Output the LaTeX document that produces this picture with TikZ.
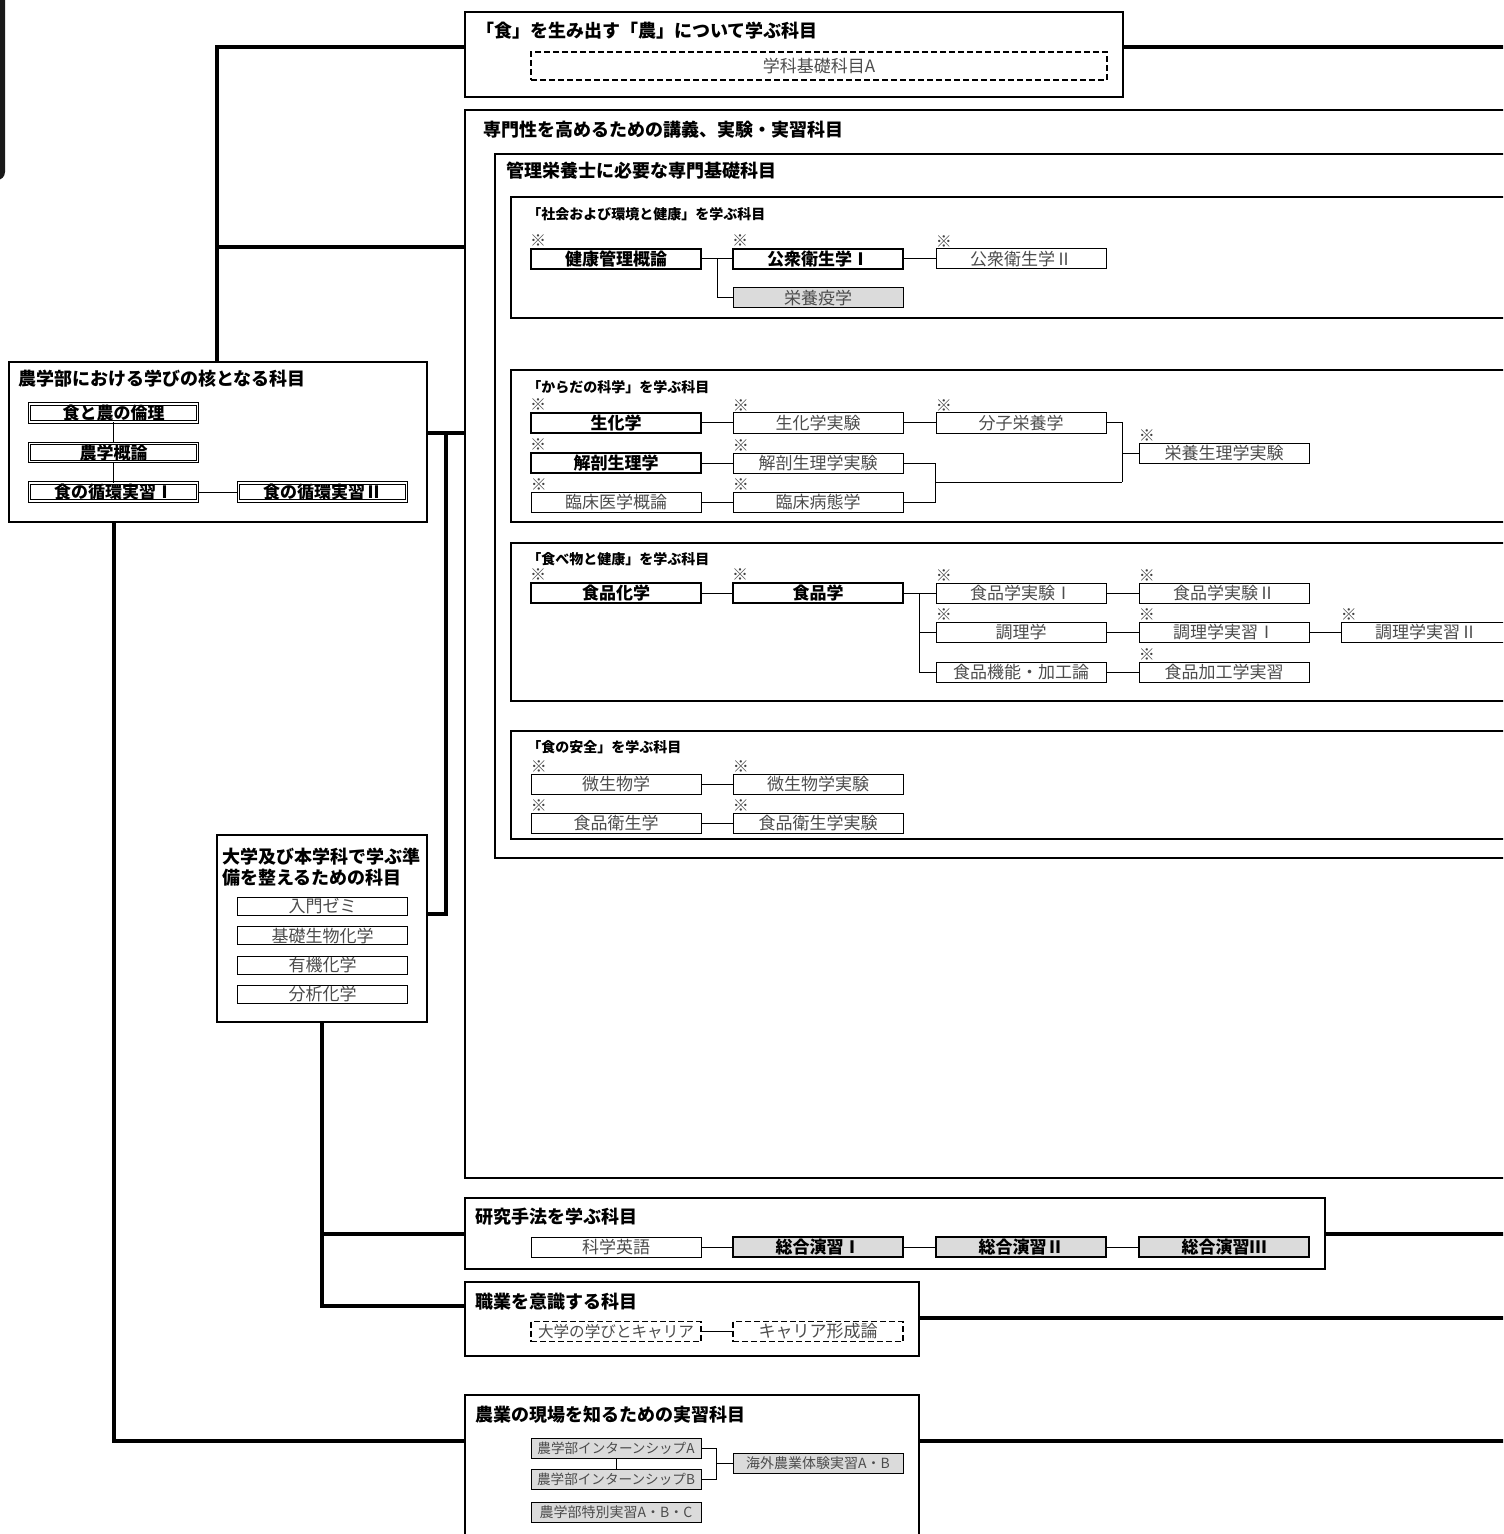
\documentclass[tikz,border=0pt]{standalone}
\usepackage{fontspec}
\setmainfont{Noto Sans CJK JP}
\usetikzlibrary{fit}
\tikzset{
  cbox/.style={draw, line width=0.7pt, inner sep=0pt},
  ttl/.style={anchor=west, inner sep=0pt, font=\fontsize{9}{10}\selectfont\bfseries},
  sttl/.style={anchor=west, inner sep=0pt, font=\fontsize{7}{8}\selectfont\bfseries},
  crs/.style={draw, line width=0.5pt, minimum width=85pt, minimum height=10pt, inner sep=0pt, text=black!70, font=\fontsize{8.5}{9}\selectfont},
  crsb/.style={crs, line width=1.4pt, text=black, font=\fontsize{8.5}{9}\selectfont\bfseries},
  gfill/.style={fill=black!14},
  dbl/.style={crs, double, double distance=0.9pt, line width=0.4pt, minimum width=84pt, minimum height=9pt, text=black, font=\fontsize{8.5}{9}\selectfont\bfseries},
  dsh/.style={crs, dash pattern=on 3pt off 1.5pt, line width=0.7pt},
  mk/.style={label={[inner sep=0pt, anchor=south west, yshift=0.5pt, font=\fontsize{8}{8}\selectfont, text=black!75]north west:※}},
  conn/.style={line width=0.5pt},
  trunk/.style={line width=1.6pt},
}
\begin{document}
\begin{tikzpicture}[x=0.5pt,y=-0.5pt]
\useasboundingbox (0,0) rectangle (1503,1534);
\clip (0,0) rectangle (1503,1534);
% page edge artifact
\fill[black!90, rounded corners=4pt] (-10,-10) rectangle (5,180);

% ---------- containers ----------
\node[cbox, fit={(465,12)(1123,97)}] (box1) {};
\node[cbox, fit={(465,110)(1530,1178)}] (box2) {};
\node[cbox, fit={(495,154)(1530,858)}] (box3) {};
\node[cbox, fit={(511,197)(1530,318)}] (sb1) {};
\node[cbox, fit={(511,370)(1530,522)}] (sb2) {};
\node[cbox, fit={(511,543)(1530,701)}] (sb3) {};
\node[cbox, fit={(511,731)(1530,839)}] (sb4) {};
\node[cbox, fit={(9,362)(427,522)}] (core) {};
\node[cbox, fit={(217,835)(427,1022)}] (prep) {};
\node[cbox, fit={(465,1198)(1325,1269)}] (res) {};
\node[cbox, fit={(465,1282)(919,1356)}] (car) {};
\node[cbox, fit={(465,1395)(919,1560)}] (farm) {};

% ---------- titles ----------
\node[ttl] (t-box1) at (476,31) {「食」を生み出す「農」について学ぶ科目};
\node[ttl] (t-box2) at (483,130) {専門性を高めるための講義、実験・実習科目};
\node[ttl] (t-box3) at (506,171) {管理栄養士に必要な専門基礎科目};
\node[sttl] (t-sb1) at (527,214) {「社会および環境と健康」を学ぶ科目};
\node[sttl] (t-sb2) at (527,387) {「からだの科学」を学ぶ科目};
\node[sttl] (t-sb3) at (527,559) {「食べ物と健康」を学ぶ科目};
\node[sttl] (t-sb4) at (527,747) {「食の安全」を学ぶ科目};
\node[ttl] (t-core) at (18,379) {農学部における学びの核となる科目};
\node[ttl, align=left, font=\fontsize{9}{10.5}\selectfont\bfseries] (t-prep) at (222,867) {大学及び本学科で学ぶ準\\備を整えるための科目};
\node[ttl] (t-res) at (475,1217) {研究手法を学ぶ科目};
\node[ttl] (t-car) at (475,1302) {職業を意識する科目};
\node[ttl] (t-farm) at (475,1415) {農業の現場を知るための実習科目};

% ---------- top box ----------
\node[dsh, minimum width=288pt, minimum height=14pt] (kiso) at (819,66) {学科基礎科目A};

% ---------- social & environment ----------
\node[crsb, mk] (kenko) at (616,259) {健康管理概論};
\node[crsb, mk] (koshu1) at (818,259) {公衆衛生学Ⅰ};
\node[crs, mk] (koshu2) at (1021,259) {公衆衛生学Ⅱ};
\node[crs, gfill] (ekigaku) at (818,298) {栄養疫学};
\draw[conn] (kenko.east) -- (koshu1.west);
\draw[conn] (koshu1.east) -- (koshu2.west);
\draw[conn] (kenko.east) ++(15,0) |- (ekigaku.west);

% ---------- body science ----------
\node[crsb, mk] (seika) at (616,423) {生化学};
\node[crs, mk] (seikaj) at (818,423) {生化学実験};
\node[crs, mk] (bunshi) at (1021,423) {分子栄養学};
\node[crsb, mk] (kaibo) at (616,463) {解剖生理学};
\node[crs, mk] (kaiboj) at (818,463) {解剖生理学実験};
\node[crs, mk] (rinsho) at (616,502) {臨床医学概論};
\node[crs, mk] (rinbyo) at (818,502) {臨床病態学};
\node[crs, mk] (eiyoj) at (1224,453) {栄養生理学実験};
\coordinate (jA) at (1122,482);
\coordinate (jB) at (935,482);
\draw[conn] (seika.east) -- (seikaj.west);
\draw[conn] (seikaj.east) -- (bunshi.west);
\draw[conn] (kaibo.east) -- (kaiboj.west);
\draw[conn] (rinsho.east) -- (rinbyo.west);
\draw[conn] (bunshi.east) -| (jA);
\draw[conn] (kaiboj.east) -| (jB) |- (rinbyo.east);
\draw[conn] (jB) -- (jA);
\draw[conn] (jA |- eiyoj.west) -- (eiyoj.west);

% ---------- food & health ----------
\node[crsb, mk] (hinkaku) at (616,593) {食品化学};
\node[crsb, mk] (hingaku) at (818,593) {食品学};
\node[crs, mk] (hjk1) at (1021,593) {食品学実験Ⅰ};
\node[crs, mk] (hjk2) at (1224,593) {食品学実験Ⅱ};
\node[crs, mk] (chori) at (1021,632) {調理学};
\node[crs, mk] (chorij1) at (1224,632) {調理学実習Ⅰ};
\node[crs, mk] (chorij2) at (1426,632) {調理学実習Ⅱ};
\node[crs] (kino) at (1021,672) {食品機能・加工論};
\node[crs, mk] (kakoj) at (1224,672) {食品加工学実習};
\draw[conn] (hinkaku.east) -- (hingaku.west);
\draw[conn] (hingaku.east) -- (hjk1.west);
\draw[conn] (hingaku.east) ++(15,0) |- (chori.west);
\draw[conn] (hingaku.east) ++(15,0) |- (kino.west);
\draw[conn] (hjk1.east) -- (hjk2.west);
\draw[conn] (chori.east) -- (chorij1.west);
\draw[conn] (chorij1.east) -- (chorij2.west);
\draw[conn] (kino.east) -- (kakoj.west);

% ---------- food safety ----------
\node[crs, mk] (biseibutsu) at (616,784) {微生物学};
\node[crs, mk] (biseij) at (818,784) {微生物学実験};
\node[crs, mk] (eisei) at (616,823) {食品衛生学};
\node[crs, mk] (eiseij) at (818,823) {食品衛生学実験};
\draw[conn] (biseibutsu.east) -- (biseij.west);
\draw[conn] (eisei.east) -- (eiseij.west);

% ---------- core ----------
\node[dbl] (rinri) at (113.5,413) {食と農の倫理};
\node[dbl] (gairon) at (113.5,452.5) {農学概論};
\node[dbl] (junkan1) at (113.5,492) {食の循環実習Ⅰ};
\node[dbl] (junkan2) at (322.5,492) {食の循環実習Ⅱ};
\draw[conn] (rinri.south) -- (gairon.north);
\draw[conn] (gairon.south) -- (junkan1.north);
\draw[conn] (junkan1.east) -- (junkan2.west);

% ---------- preparation ----------
\node[crs, minimum height=9pt] (zemi) at (322.5,906.5) {入門ゼミ};
\node[crs, minimum height=9pt] (kisoseibutsu) at (322.5,935.5) {基礎生物化学};
\node[crs, minimum height=9pt] (yuki) at (322.5,965) {有機化学};
\node[crs, minimum height=9pt] (bunseki) at (322.5,994.5) {分析化学};

% ---------- research ----------
\node[crs] (eigo) at (616,1247) {科学英語};
\node[crsb, gfill] (sogo1) at (818,1247) {総合演習Ⅰ};
\node[crsb, gfill] (sogo2) at (1021,1247) {総合演習Ⅱ};
\node[crsb, gfill] (sogo3) at (1224,1247) {総合演習Ⅲ};
\draw[conn] (eigo.east) -- (sogo1.west);
\draw[conn] (sogo1.east) -- (sogo2.west);
\draw[conn] (sogo2.east) -- (sogo3.west);

% ---------- career ----------
\node[dsh, font=\fontsize{7.8}{9}\selectfont] (manabi) at (616,1331.5) {大学の学びとキャリア};
\node[dsh] (keisei) at (818,1331.5) {キャリア形成論};
\draw[conn] (manabi.east) -- (keisei.west);

% ---------- farm practice ----------
\node[crs, gfill, font=\fontsize{6.8}{8}\selectfont] (intA) at (616,1448) {農学部インターンシップA};
\node[crs, gfill, font=\fontsize{6.8}{8}\selectfont] (intB) at (616,1479) {農学部インターンシップB};
\node[crs, gfill, font=\fontsize{7}{8}\selectfont] (tokubetsu) at (616,1512) {農学部特別実習A・B・C};
\node[crs, gfill, font=\fontsize{7}{8}\selectfont] (kaigai) at (818,1463) {海外農業体験実習A・B};
\draw[conn] (intA.south) -- (intB.north);
\draw[conn] (intA.east) -- ++(15,0) |- (intB.east);
\draw[conn] (kaigai.west) -- ++(-17,0);

% ---------- trunk connectors ----------
\coordinate (t1) at (217,47);
\coordinate (t2) at (217,247);
\coordinate (t3) at (446,433);
\coordinate (t4) at (446,914);
\coordinate (t5) at (114,1441);
\coordinate (t6) at (322,1234);
\coordinate (t7) at (322,1306);
\coordinate (r1) at (1510,47);
\coordinate (r2) at (1510,1234);
\coordinate (r3) at (1510,1318);
\coordinate (r4) at (1510,1441);
\draw[trunk] (core.north -| t1) -- (t1) -- (t1 -| box1.west);
\draw[trunk] (t2) -- (t2 -| box2.west);
\draw[trunk] (t3 -| core.east) -- (t3 -| box2.west);
\draw[trunk] (t3) -- (t4) -- (t4 -| prep.east);
\draw[trunk] (core.south -| t5) -- (t5) -- (t5 -| farm.west);
\draw[trunk] (prep.south -| t6) -- (t7) -- (t7 -| car.west);
\draw[trunk] (t6) -- (t6 -| res.west);
\draw[trunk] (box1.east |- r1) -- (r1);
\draw[trunk] (res.east |- r2) -- (r2);
\draw[trunk] (car.east |- r3) -- (r3);
\draw[trunk] (farm.east |- r4) -- (r4);
\end{tikzpicture}
\end{document}
